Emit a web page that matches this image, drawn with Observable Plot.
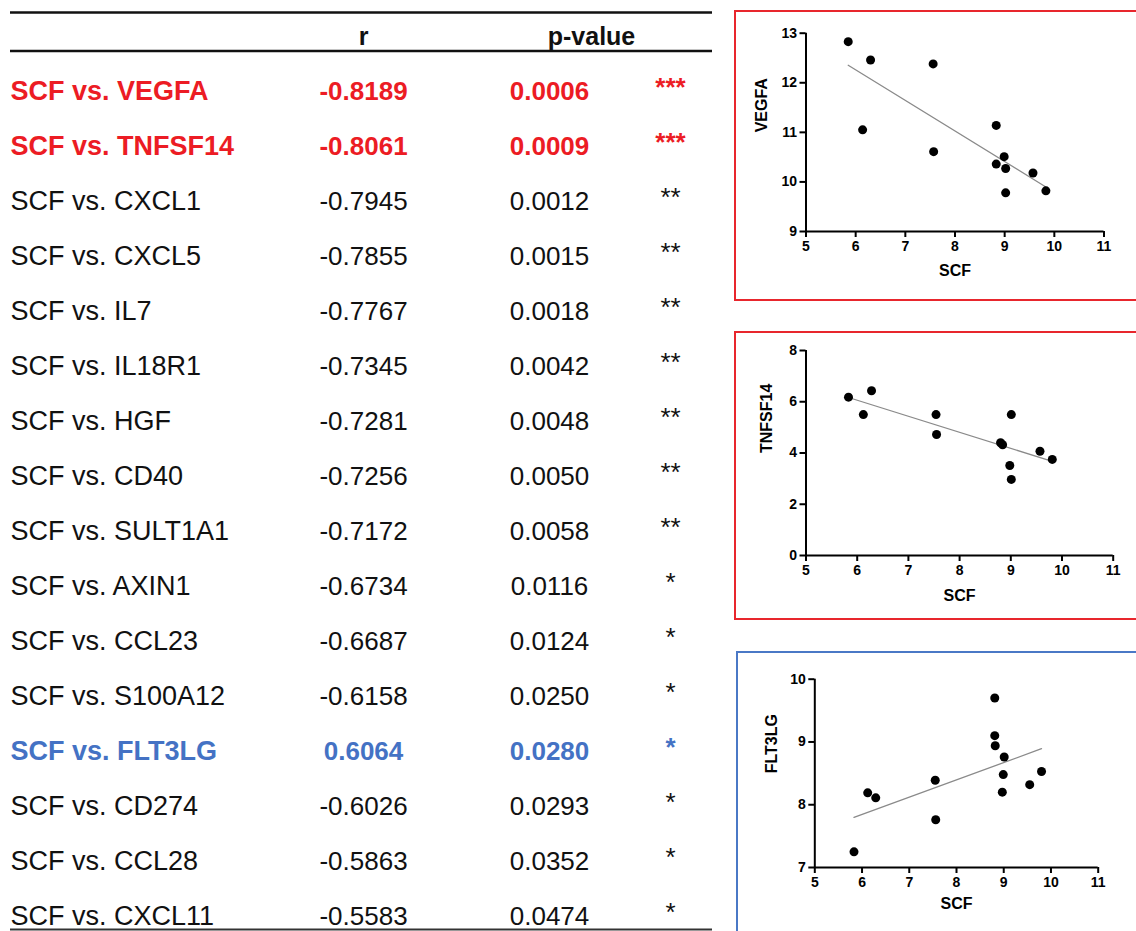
<!DOCTYPE html>
<html><head><meta charset="utf-8">
<script src="https://cdn.jsdelivr.net/npm/d3@7"></script>
<script src="https://cdn.jsdelivr.net/npm/@observablehq/plot@0.6"></script>
<style>
html,body{margin:0;padding:0;background:#fff;overflow:hidden;}
#page{position:relative;width:1136px;height:931px;overflow:hidden;font-family:"Liberation Sans",Arial,Helvetica,sans-serif;}
.box{position:absolute;box-sizing:border-box;border:2px solid;}
.panel{position:absolute;}
.panel svg{display:block;}
.scatter [aria-label$="tick label"]{font-size:14px !important;font-weight:bold !important;}
</style></head><body><div id="page">
<div class="box" style="left:734px;top:10px;width:500px;height:291px;border-color:#e8262d"></div>
<div class="box" style="left:734px;top:331px;width:500px;height:289px;border-color:#e8262d"></div>
<div class="box" style="left:736px;top:651px;width:500px;height:400px;border-color:#4a78c6"></div>
<div class="panel" id="table" style="left:0;top:0"></div>
<div class="panel scatter" id="p1" style="left:736px;top:10px"></div>
<div class="panel scatter" id="p2" style="left:736px;top:332px"></div>
<div class="panel scatter" id="p3" style="left:736px;top:652px"></div>
</div>
<script>
// ---------- table data ----------
const headerR = "r";
const headerP = "p-value";
const names = ["SCF vs. VEGFA","SCF vs. TNFSF14","SCF vs. CXCL1","SCF vs. CXCL5","SCF vs. IL7","SCF vs. IL18R1","SCF vs. HGF","SCF vs. CD40","SCF vs. SULT1A1","SCF vs. AXIN1","SCF vs. CCL23","SCF vs. S100A12","SCF vs. FLT3LG","SCF vs. CD274","SCF vs. CCL28","SCF vs. CXCL11"];
const rValues = [-0.8189,-0.8061,-0.7945,-0.7855,-0.7767,-0.7345,-0.7281,-0.7256,-0.7172,-0.6734,-0.6687,-0.6158,0.6064,-0.6026,-0.5863,-0.5583];
const pValues = [0.0006,0.0009,0.0012,0.0015,0.0018,0.0042,0.0048,0.0050,0.0058,0.0116,0.0124,0.0250,0.0280,0.0293,0.0352,0.0474];
const stars = ["***","***","**","**","**","**","**","**","**","*","*","*","*","*","*","*"];
const highlight = ["red","red","","","","","","","","","","","blue","","",""];

// ---------- scatter data ----------
const scfVEGFA = [5.85,6.30,6.14,7.56,7.57,8.83,8.83,8.99,9.02,9.02,9.57,9.83];
const vegfa    = [12.83,12.46,11.05,12.38,10.61,11.14,10.36,10.51,10.27,9.78,10.18,9.82];
const scfTNF   = [5.83,6.12,6.28,7.54,7.55,8.80,8.84,8.98,9.01,9.01,9.57,9.81];
const tnfsf14  = [6.18,5.50,6.43,5.50,4.72,4.40,4.32,3.51,2.97,5.50,4.07,3.75];
const scfFLT   = [5.83,6.12,6.29,7.55,7.56,8.81,8.81,8.82,9.01,8.99,8.97,9.55,9.80];
const flt3lg   = [7.25,8.19,8.11,8.39,7.76,9.70,9.10,8.94,8.76,8.48,8.20,8.32,8.53];

const xDomain = [5, 11];
const xTicks = [5,6,7,8,9,10,11];
const vegfaDomain = [9, 13], vegfaTicks = [9,10,11,12,13];
const tnfDomain = [0, 8], tnfTicks = [0,2,4,6,8];
const fltDomain = [7, 10], fltTicks = [7,8,9,10];

const FONT = '"Liberation Sans", Arial, Helvetica, sans-serif';
const RED = "#ec1c24", BLUE = "#4472c4", BLACK = "#111111";

// ---------- table ----------
const rows = names.map((n, i) => ({
  i: i + 1, name: n, r: rValues[i].toFixed(4), p: pValues[i].toFixed(4), sig: stars[i],
  bold: highlight[i] !== "",
  color: highlight[i] === "red" ? RED : highlight[i] === "blue" ? BLUE : BLACK
}));
const boldRows = rows.filter(d => d.bold), plainRows = rows.filter(d => !d.bold);
// column centre offsets from the table's left edge (layout only)
const colDx = {r: 353, p: 539, sig: 660};
function rowMarks(data, weight) {
  const common = {y: "i", fill: "color", fontSize: 26, fontWeight: weight, frameAnchor: "left"};
  return [
    Plot.text(data, {...common, text: "name", textAnchor: "start", fontSize: 27}),
    Plot.text(data, {...common, text: "r", textAnchor: "middle", dx: colDx.r}),
    Plot.text(data, {...common, text: "p", textAnchor: "middle", dx: colDx.p}),
    Plot.text(data, {...common, text: "sig", textAnchor: "middle", dx: colDx.sig, dy: -4})
  ];
}
const table = Plot.plot({
  width: 720, height: 931, marginTop: 12, marginBottom: 2, marginLeft: 10, marginRight: 8,
  y: {domain: [0, 16], range: [36, 916], axis: null},
  style: {fontFamily: FONT, background: "transparent", color: BLACK},
  marks: [
    Plot.ruleY([0], {dy: -24, strokeWidth: 2.5, stroke: BLACK}),
    Plot.ruleY([0], {dy: 14.5, strokeWidth: 2.5, stroke: BLACK}),
    Plot.ruleY([16], {dy: 13, strokeWidth: 2, stroke: "#333"}),
    Plot.text([headerR], {frameAnchor: "left", y: () => 0, text: d => d, fontSize: 25, fontWeight: "bold", fill: BLACK, textAnchor: "middle", dx: colDx.r}),
    Plot.text([headerP], {frameAnchor: "left", y: () => 0, text: d => d, fontSize: 25, fontWeight: "bold", fill: BLACK, textAnchor: "middle", dx: colDx.p + 42}),
    ...rowMarks(plainRows, "normal"),
    ...rowMarks(boldRows, "bold")
  ]
});
document.getElementById("table").appendChild(table);

// ---------- scatter panels ----------
function scatter(xs, ys, yLabel, yDomain, yTicks, layout) {
  const data = xs.map((x, i) => ({x, y: ys[i]}));
  return Plot.plot({
    width: 400, height: layout.height,
    marginLeft: layout.ml, marginRight: layout.mr, marginTop: layout.mt, marginBottom: layout.mb,
    x: {domain: xDomain},
    y: {domain: yDomain},
    style: {fontFamily: FONT, background: "transparent", color: "#000", fontWeight: "bold", fontSize: "14px", overflow: "visible"},
    marks: [
      Plot.linearRegressionY(data, {x: "x", y: "y", stroke: "#8a8a8a", strokeWidth: 1.3, ci: 0}),
      Plot.ruleX([xDomain[0]], {stroke: "#000", strokeWidth: 2}),
      Plot.ruleY([yDomain[0]], {stroke: "#000", strokeWidth: 2}),
      Plot.axisX({ticks: xTicks, tickSize: 6, tickPadding: 4, strokeWidth: 2, fontSize: 14, fontWeight: "bold", label: null, tickFormat: d => String(d)}),
      Plot.axisY({ticks: yTicks, tickSize: 6, tickPadding: 3, strokeWidth: 2, fontSize: 14, fontWeight: "bold", label: null, tickFormat: d => String(d)}),
      Plot.dot(data, {x: "x", y: "y", r: 4.5, fill: "#000", stroke: "none"}),
      Plot.text([yLabel], {frameAnchor: "left", rotate: -90, dx: layout.ydx, text: d => d, fontSize: 16, fontWeight: "bold", fill: "#000"}),
      Plot.text(["SCF"], {frameAnchor: "bottom", dy: layout.xdy, text: d => d, fontSize: 16, fontWeight: "bold", fill: "#000"})
    ]
  });
}
document.getElementById("p1").appendChild(scatter(scfVEGFA, vegfa, "VEGFA", vegfaDomain, vegfaTicks,
  {height: 290, ml: 69.5, mr: 32.5, mt: 22.7, mb: 69, ydx: -44, xdy: 44}));
document.getElementById("p2").appendChild(scatter(scfTNF, tnfsf14, "TNFSF14", tnfDomain, tnfTicks,
  {height: 287, ml: 69.5, mr: 23.3, mt: 18, mb: 64, ydx: -39, xdy: 45}));
document.getElementById("p3").appendChild(scatter(scfFLT, flt3lg, "FLT3LG", fltDomain, fltTicks,
  {height: 279, ml: 78.3, mr: 38.3, mt: 26.7, mb: 64, ydx: -43, xdy: 41}));
</script>
</body></html>
